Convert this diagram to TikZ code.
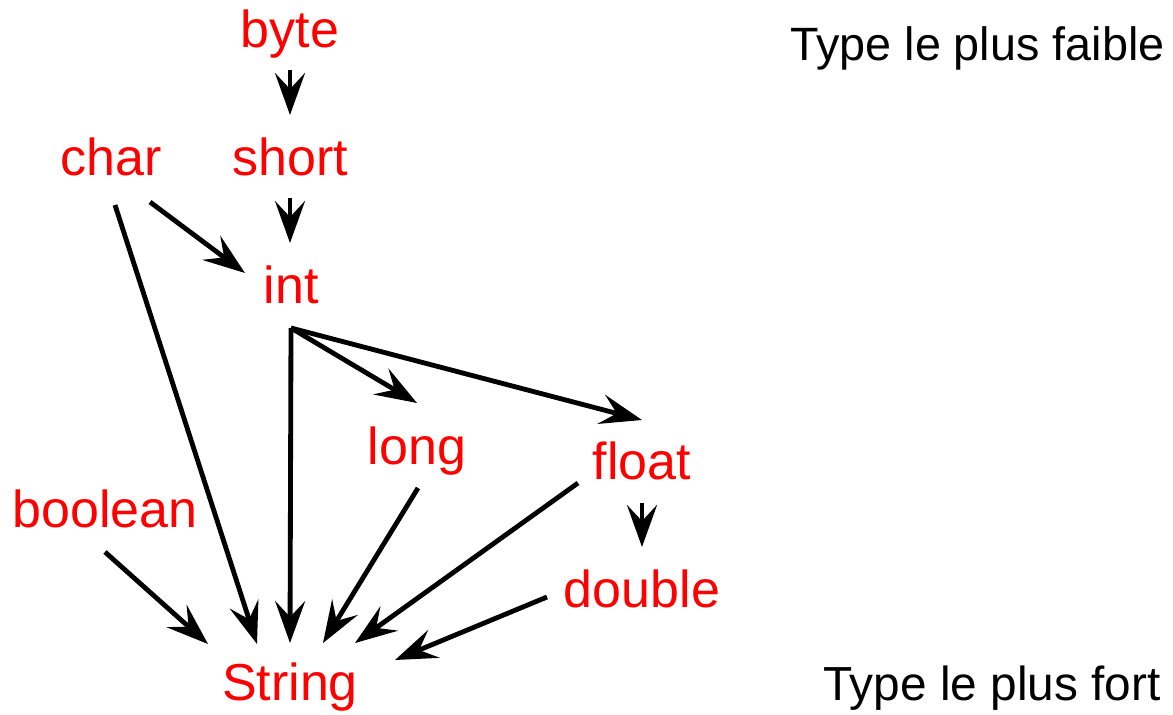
\documentclass[tikz,border=0pt]{standalone}
\usepackage{fontspec}
\setmainfont{Liberation Sans}
\usetikzlibrary{arrows.meta}
\begin{document}
\begin{tikzpicture}[x=0.02cm,y=-0.02cm,
  typ/.style={text=red,inner sep=0pt,anchor=base,font=\fontsize{29.6}{34}\selectfont},
  note/.style={text=black,inner sep=0pt,anchor=base west,font=\fontsize{27.2}{32}\selectfont},
  arr/.style={line width=2.75pt,-{Stealth[length=0.84cm,width=0.6cm,inset=0.32cm]}}]
\useasboundingbox (0,0) rectangle (1173,714);
% nodes
\node[typ] (byte) at (290,47) {byte};
\node[typ] (short) at (290,175) {short};
\node[typ] (char) at (111,175) {char};
\node[typ] (int) at (291,303) {int};
\node[typ] (long) at (417,464) {long};
\node[typ] (float) at (642,479) {float};
\node[typ] (boolean) at (105,527) {boolean};
\node[typ] (double) at (642,607) {double};
\node[typ] (String) at (290,700) {String};
\node[note,font=\fontsize{26.6}{32}\selectfont] (weak) at (790,60) {Type le plus faible};
\node[note] (strong) at (823,700) {Type le plus fort};
% connectors
\draw[arr] ([shift={(0,23)}]byte.base) -- ([shift={(0,-60)}]short.base);
\draw[arr] ([shift={(0,23)}]short.base) -- ([shift={(-1,-60)}]int.base);
\draw[arr] ([shift={(39,27)}]char.base) -- ([shift={(-46,-30)}]int.base);
\draw[arr] ([shift={(4,30)}]char.base) -- ([shift={(-33,-56)}]String.base);
\draw[arr] ([shift={(0,25)}]int.base) -- ([shift={(0,-57)}]String.base);
\draw[arr] ([shift={(0,25)}]int.base) -- ([shift={(0,-61)}]long.base);
\draw[arr] ([shift={(0,25)}]int.base) -- ([shift={(0,-59)}]float.base);
\draw[arr] ([shift={(1,24)}]long.base) -- ([shift={(33,-57)}]String.base);
\draw[arr] ([shift={(-64,4)}]float.base) -- ([shift={(65,-57)}]String.base);
\draw[arr] ([shift={(0,24)}]float.base) -- ([shift={(0,-60)}]double.base);
\draw[arr] ([shift={(0,25)}]boolean.base) -- ([shift={(-82,-56)}]String.base);
\draw[arr] ([shift={(-95,-10)}]double.base) -- ([shift={(105,-40)}]String.base);
\end{tikzpicture}
\end{document}
